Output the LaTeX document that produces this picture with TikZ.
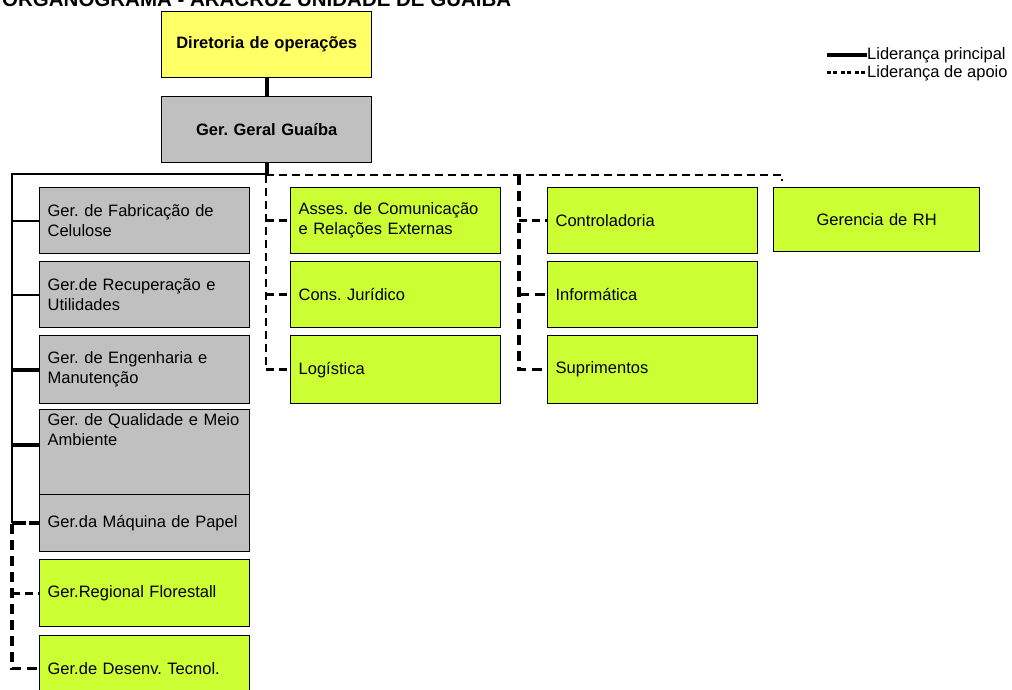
\documentclass[tikz,border=0pt]{standalone}
\usepackage{fontspec}
\setmainfont{Liberation Sans}
\frenchspacing
\definecolor{ybox}{HTML}{FFFF66}
\definecolor{gbox}{HTML}{C0C0C0}
\definecolor{lbox}{HTML}{CCFF33}
\tikzset{
  org/.style={draw=black, line width=1.3pt, anchor=north west, inner xsep=8pt, inner ysep=0pt,
     align=left, font=\fontsize{16.5}{20}\selectfont},
  col/.style={org, minimum width=210pt, text width=194pt},
  grey/.style={col, fill=gbox},
  lime/.style={col, fill=lbox},
  topbox/.style={org, minimum width=210pt, text width=194pt, minimum height=66pt, align=center,
     font=\bfseries\fontsize{16.5}{20}\selectfont},
  solidthick/.style={line width=4pt},
  solidthin/.style={line width=2pt},
  dashthin/.style={line width=2.8pt, dash pattern=on 8pt off 5pt},
  dashthick/.style={line width=3.5pt, dash pattern=on 10pt off 6pt},
  legsolid/.style={line width=3.5pt},
  legdash/.style={line width=3pt, dash pattern=on 4pt off 2pt on 4pt off 4pt},
}
\begin{document}
\begin{tikzpicture}[x=1pt,y=-1pt]
\useasboundingbox (0,0) rectangle (1012,690);
% title (cut off at the top of the page)
\node[anchor=base west, inner sep=0pt, font=\bfseries\fontsize{20.5}{24}\selectfont] (title) at (2,7) {ORGANOGRAMA - ARACRUZ UNIDADE DE GUAÍBA};
% top boxes
\node[topbox, fill=ybox] (dir) at (161,11) {Diretoria de operações};
\node[topbox, fill=gbox] (gg) at (161,96) {Ger. Geral Guaíba};
% left column
\node[grey, minimum height=66pt] (fab) at (39,187) {Ger. de Fabricação de\\Celulose};
\node[grey, minimum height=66pt] (rec) at (39,261) {Ger.de Recuperação e\\Utilidades};
\node[grey, minimum height=68pt] (eng) at (39,335) {Ger. de Engenharia e\\Manutenção};
\node[grey, minimum height=85pt] (qual) at (39,409) {\parbox[c][81pt][t]{194pt}{\vspace{2pt}Ger. de Qualidade e Meio\\Ambiente}};
\node[grey, minimum height=57pt] (maq) at (39,494) {Ger.da Máquina de Papel};
\node[lime, minimum height=67pt] (reg) at (39,559) {Ger.Regional Florestall};
\node[lime, minimum height=66pt] (des) at (39,635) {Ger.de Desenv. Tecnol.};
% second column
\node[lime, minimum height=66pt] (ases) at (290,187) {Asses. de Comunicação\\e Relações Externas};
\node[lime, minimum height=66pt] (cons) at (290,261) {Cons. Jurídico};
\node[lime, minimum height=68pt] (log) at (290,335) {Logística};
% third column
\node[lime, minimum height=66pt] (ctrl) at (547,187) {Controladoria};
\node[lime, minimum height=66pt] (inf) at (547,261) {Informática};
\node[lime, minimum height=68pt] (sup) at (547,335) {Suprimentos};
% RH
\node[lime, minimum height=64pt, minimum width=206pt, text width=190pt, align=center] (rh) at (773,187) {Gerencia de RH};
% junction coordinates
\coordinate (jL) at (12,174);
\coordinate (c1) at (266,175);
\coordinate (c2) at (519,175);
\coordinate (c3) at (782,175);
\coordinate (c4) at (12,524);
% solid leadership
\draw[solidthick] (dir.south) -- (gg.north);
\draw[solidthick] (gg.south) -- (gg.south |- jL);
\draw[solidthin] (gg.south |- jL) -- (jL) -- (jL |- maq.west);
\draw[solidthin] (jL |- fab.west) -- (fab.west);
\draw[solidthin] (jL |- rec.west) -- (rec.west);
\draw[solidthick] (jL |- eng.west) -- (eng.west);
\draw[solidthick] (jL |- qual.west) ++(0,-7.5) -- ++(27,0);
\draw[line width=4pt, dash pattern=on 14pt off 3pt] (jL |- maq.west) -- (maq.west);
% dashed support leadership
\draw[dashthin] (c1) -- (c3) -- ++(0,6);
\draw[dashthin] (c1) |- (log.west);
\draw[dashthin] (c1 |- ases.west) -- (ases.west);
\draw[dashthin] (c1 |- cons.west) -- (cons.west);
\draw[dashthick] (c2) |- (sup.west);
\draw[dashthin] (c2 |- ctrl.west) -- (ctrl.west);
\draw[dashthick] (c2 |- inf.west) -- (inf.west);
\draw[dashthick] (c4) |- (des.west);
\draw[dashthin] (c4 |- reg.west) -- (reg.west);
% legend
\node[anchor=west, inner sep=0pt, font=\fontsize{16.5}{18}\selectfont] (lt1) at (867,55) {Liderança principal};
\node[anchor=west, inner sep=0pt, font=\fontsize{16.5}{18}\selectfont] (lt2) at (867,73) {Liderança de apoio};
\coordinate (l1) at (827,55);
\coordinate (l2) at (827,73);
\draw[legsolid] (l1) -- (lt1.west);
\draw[legdash] (l2) -- (lt2.west);
\end{tikzpicture}
\end{document}
